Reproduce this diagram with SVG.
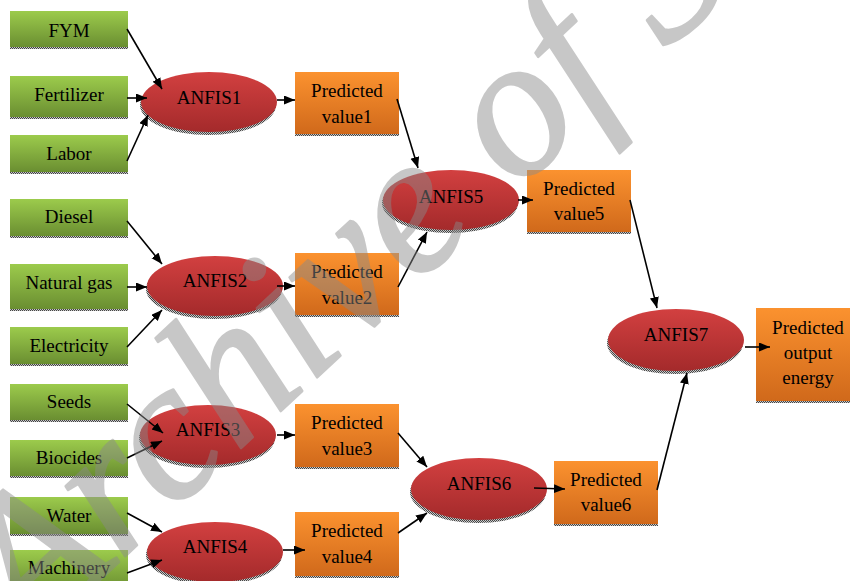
<svg xmlns="http://www.w3.org/2000/svg" width="850" height="581" viewBox="0 0 850 581">
<defs>
<linearGradient id="gGreen" x1="0" y1="0" x2="0" y2="1"><stop offset="0" stop-color="#9ccb4c"/><stop offset="1" stop-color="#6a8e31"/></linearGradient>
<linearGradient id="gOrange" x1="0" y1="0" x2="0" y2="1"><stop offset="0" stop-color="#fb922f"/><stop offset="1" stop-color="#d0691b"/></linearGradient>
<linearGradient id="gRed" x1="0" y1="0" x2="0" y2="1"><stop offset="0" stop-color="#d24040"/><stop offset="1" stop-color="#a42a2b"/></linearGradient>
<pattern id="dither" width="2" height="2" patternUnits="userSpaceOnUse"><rect width="2" height="2" fill="#c8c8c8"/><rect width="1" height="1" fill="#444"/><rect x="1" y="1" width="1" height="1" fill="#444"/></pattern>
<marker id="arr" markerUnits="userSpaceOnUse" markerWidth="12" markerHeight="10" refX="11" refY="4.5" orient="auto"><path d="M0,0 L11,4.5 L0,9 z" fill="#000"/></marker>
</defs>
<style>
.in{fill:url(#gGreen)}
.pv{fill:url(#gOrange)}
.af{fill:url(#gRed)}
.sh{fill:url(#dither)}
text{font-family:"Liberation Serif","Times New Roman",serif;font-size:19px;fill:#000;text-anchor:middle}
.c line{stroke:#000;stroke-width:1.6;marker-end:url(#arr)}
.wm{font-family:"Liberation Serif","Times New Roman",serif;font-style:italic;font-size:200px;fill:#8a8a8a;stroke:#8a8a8a;stroke-width:2.5;stroke-linejoin:round;opacity:0.47;text-anchor:start}
</style>
<rect width="850" height="581" fill="#fff"/>
<g id="fym"><rect class="sh" x="10" y="46" width="118" height="3"/><rect class="in" x="10" y="11" width="118" height="36"/><text x="69" y="37">FYM</text></g>
<g id="fertilizer"><rect class="sh" x="10" y="116" width="118" height="3"/><rect class="in" x="10" y="76" width="118" height="41"/><text x="69" y="101">Fertilizer</text></g>
<g id="labor"><rect class="sh" x="10" y="171" width="118" height="3"/><rect class="in" x="10" y="135" width="118" height="37"/><text x="69" y="160">Labor</text></g>
<g id="diesel"><rect class="sh" x="10" y="235" width="118" height="3"/><rect class="in" x="10" y="199" width="118" height="37"/><text x="69" y="223">Diesel</text></g>
<g id="naturalgas"><rect class="sh" x="10" y="308" width="118" height="3"/><rect class="in" x="10" y="264" width="118" height="45"/><text x="69" y="289">Natural gas</text></g>
<g id="electricity"><rect class="sh" x="10" y="363" width="118" height="3"/><rect class="in" x="10" y="327" width="118" height="37"/><text x="69" y="352">Electricity</text></g>
<g id="seeds"><rect class="sh" x="10" y="419" width="118" height="3"/><rect class="in" x="10" y="384" width="118" height="36"/><text x="69" y="408">Seeds</text></g>
<g id="biocides"><rect class="sh" x="10" y="475" width="118" height="3"/><rect class="in" x="10" y="440" width="118" height="36"/><text x="69" y="464">Biocides</text></g>
<g id="water"><rect class="sh" x="10" y="533" width="118" height="3"/><rect class="in" x="10" y="497" width="118" height="37"/><text x="69" y="522">Water</text></g>
<g id="machinery"><rect class="in" x="10" y="550" width="118" height="40"/><text x="69" y="574">Machinery</text></g>

<g id="anfis1"><ellipse class="sh" cx="208" cy="105" rx="68" ry="30"/><ellipse class="af" cx="209" cy="102" rx="68" ry="30"/><text x="209" y="104">ANFIS1</text></g>
<g id="anfis2"><ellipse class="sh" cx="214" cy="289" rx="68" ry="30"/><ellipse class="af" cx="215" cy="286" rx="68" ry="30"/><text x="215" y="287">ANFIS2</text></g>
<g id="anfis3"><ellipse class="sh" cx="207" cy="438" rx="68" ry="30"/><ellipse class="af" cx="208" cy="435" rx="68" ry="30"/><text x="208" y="436">ANFIS3</text></g>
<g id="anfis4"><ellipse class="sh" cx="214" cy="555" rx="68" ry="30"/><ellipse class="af" cx="215" cy="552" rx="68" ry="30"/><text x="215" y="553">ANFIS4</text></g>
<g id="anfis5"><ellipse class="sh" cx="450" cy="203" rx="68" ry="30"/><ellipse class="af" cx="451" cy="200" rx="68" ry="30"/><text x="451" y="203">ANFIS5</text></g>
<g id="anfis6"><ellipse class="sh" cx="478" cy="492" rx="68" ry="31"/><ellipse class="af" cx="479" cy="489" rx="68" ry="31"/><text x="479" y="490">ANFIS6</text></g>
<g id="anfis7"><ellipse class="sh" cx="675" cy="343" rx="68" ry="31"/><ellipse class="af" cx="676" cy="340" rx="68" ry="31"/><text x="676" y="341">ANFIS7</text></g>

<g id="pv1"><rect class="sh" x="295" y="133" width="104" height="3"/><rect class="pv" x="295" y="72" width="104" height="62"/><text x="347" y="97">Predicted</text><text x="347" y="123">value1</text></g>
<g id="pv2"><rect class="sh" x="295" y="314" width="104" height="3"/><rect class="pv" x="295" y="253" width="104" height="62"/><text x="347" y="278">Predicted</text><text x="347" y="304">value2</text></g>
<g id="pv3"><rect class="sh" x="295" y="466" width="104" height="3"/><rect class="pv" x="295" y="404" width="104" height="63"/><text x="347" y="429">Predicted</text><text x="347" y="455">value3</text></g>
<g id="pv4"><rect class="sh" x="295" y="575" width="104" height="3"/><rect class="pv" x="295" y="512" width="104" height="64"/><text x="347" y="537">Predicted</text><text x="347" y="563">value4</text></g>
<g id="pv5"><rect class="sh" x="527" y="231" width="104" height="3"/><rect class="pv" x="527" y="170" width="104" height="62"/><text x="579" y="195">Predicted</text><text x="579" y="220">value5</text></g>
<g id="pv6"><rect class="sh" x="554" y="523" width="104" height="3"/><rect class="pv" x="554" y="461" width="104" height="63"/><text x="606" y="486">Predicted</text><text x="606" y="511">value6</text></g>
<g id="pvout"><rect class="sh" x="756" y="400" width="104" height="3"/><rect class="pv" x="756" y="308" width="104" height="93"/><text x="808" y="334">Predicted</text><text x="808" y="359">output</text><text x="808" y="384">energy</text></g>

<g id="connectors" class="c">
<line x1="127" y1="29" x2="162" y2="89"/>
<line x1="127" y1="98" x2="147" y2="98"/>
<line x1="127" y1="161" x2="148" y2="115"/>
<line x1="277" y1="100" x2="295" y2="100"/>
<line x1="127" y1="221" x2="162" y2="264"/>
<line x1="127" y1="287" x2="147" y2="287"/>
<line x1="127" y1="347" x2="162" y2="310"/>
<line x1="277" y1="286" x2="295" y2="286"/>
<line x1="127" y1="404" x2="163" y2="433"/>
<line x1="127" y1="458" x2="162" y2="441"/>
<line x1="277" y1="435" x2="295" y2="435"/>
<line x1="127" y1="513" x2="162" y2="532"/>
<line x1="127" y1="573" x2="162" y2="560"/>
<line x1="283" y1="550" x2="305" y2="550"/>
<line x1="397" y1="99" x2="418" y2="168"/>
<line x1="398" y1="287" x2="427" y2="232"/>
<line x1="518" y1="200" x2="533" y2="200"/>
<line x1="630" y1="200" x2="657" y2="308"/>
<line x1="398" y1="433" x2="427" y2="467"/>
<line x1="398" y1="533" x2="427" y2="513"/>
<line x1="534" y1="488" x2="565" y2="489"/>
<line x1="657" y1="490" x2="687" y2="373"/>
<line x1="745" y1="347" x2="770" y2="347"/>
</g>

<text class="wm" transform="translate(30,645) rotate(-43)">Archive of SID</text>
</svg>
